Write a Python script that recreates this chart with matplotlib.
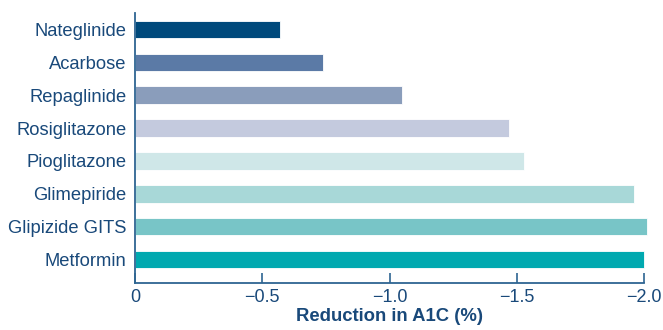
import matplotlib
matplotlib.use('Agg')
import matplotlib.pyplot as plt

# Drugs listed bottom to top (Metformin at the bottom)
drugs = ['Metformin', 'Glipizide GITS', 'Glimepiride', 'Pioglitazone',
         'Rosiglitazone', 'Repaglinide', 'Acarbose', 'Nateglinide']
a1c_change = [-2.0, -2.01, -1.96, -1.53, -1.47, -1.05, -0.74, -0.57]
bar_colors = ['#00a9b0', '#78c5c7', '#a8d8d8', '#cfe7e8',
              '#c4cade', '#8a9dbb', '#5b7aa6', '#004a7c']
x_ticks = [0, -0.5, -1.0, -1.5, -2.0]
x_tick_labels = ['0', '\u22120.5', '\u22121.0', '\u22121.5', '\u22122.0']

text_color = '#19497a'
spine_color = '#2e6592'

plt.rcParams['font.family'] = ['Liberation Sans', 'DejaVu Sans']

fig = plt.figure(figsize=(6.63, 3.30), dpi=100, facecolor='white')
ax = fig.add_axes([135 / 663, (330 - 282.5) / 330, (644 - 135) / 663, (282.5 - 13) / 330])

positions = list(range(len(drugs)))
ax.barh(positions, a1c_change, height=0.535, color=bar_colors,
        edgecolor='white', linewidth=0.6, clip_on=False, zorder=2)

ax.set_xlim(0, -2.0)
ax.set_ylim(-0.7, 7.5)

ax.set_yticks(positions)
ax.set_yticklabels(drugs, fontsize=13.2, color=text_color)
ax.set_xticks(x_ticks)
ax.set_xticklabels(x_tick_labels, fontsize=13, color=text_color)

ax.tick_params(axis='y', length=0, pad=6)
ax.tick_params(axis='x', direction='in', length=7.5, width=1.2,
               color=spine_color, pad=5)

for side in ['top', 'right']:
    ax.spines[side].set_visible(False)
for side in ['left', 'bottom']:
    ax.spines[side].set_color(spine_color)
    ax.spines[side].set_linewidth(1.3)

ax.set_xlabel('Reduction in A1C (%)', fontsize=13.3, fontweight='bold',
              color=text_color, labelpad=1)

plt.savefig('out.png', dpi=100, facecolor='white')
plt.close('all')
